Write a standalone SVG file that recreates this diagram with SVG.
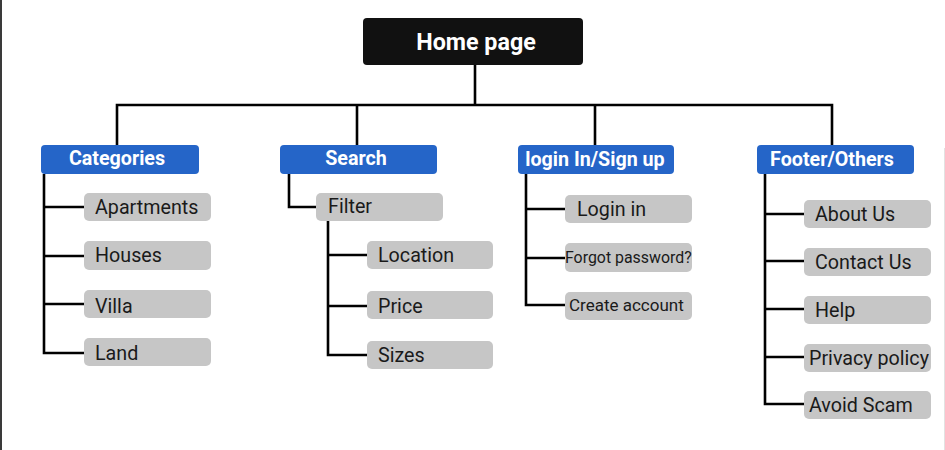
<svg xmlns="http://www.w3.org/2000/svg" width="945" height="450" viewBox="0 0 945 450">
  <style>
    .root rect { fill: #111111; }
    .root text { fill: #ffffff; font-family: Roboto, "Liberation Sans", sans-serif; font-weight: 700; font-size: 23.3px; text-anchor: middle; }
    .sec rect { fill: #2565c8; }
    .sec text { fill: #ffffff; font-family: Roboto, "Liberation Sans", sans-serif; font-weight: 700; font-size: 19.7px; text-anchor: middle; }
    .leaf rect { fill: #c6c6c6; }
    .leaf text { fill: #1a1a1a; font-family: Roboto, "Liberation Sans", sans-serif; font-size: 19.7px; }
    .links path { fill: none; stroke: #000000; stroke-width: 2.6; }
  </style>

  <rect width="945" height="450" fill="#ffffff"/>
  <!-- frame edges -->
  <rect x="0" y="0" width="2" height="450" fill="#3a3a3a"/>
  <line x1="944.5" y1="148" x2="944.5" y2="450" stroke="#e2e2e2" stroke-width="1"/>

  <g class="links">
    <!-- trunk -->
    <path d="M475 65 V105 M117 145 V105 H832 V145 M357 105 V145 M595 105 V145"/>
    <!-- Categories -->
    <path d="M44 174 V353 H84 M44 207 H84 M44 256 H84 M44 304 H84"/>
    <!-- Search / Filter -->
    <path d="M289 174 V207 H316"/>
    <path d="M328 221 V355 H367 M328 255 H367 M328 306 H367"/>
    <!-- Login -->
    <path d="M526 174 V305 H565 M526 209 H565 M526 258 H565"/>
    <!-- Footer -->
    <path d="M765 174 V404 H804 M765 214 H804 M765 261 H804 M765 309 H804 M765 357 H804"/>
  </g>

  <g id="home" class="root">
    <rect x="363" y="18" width="220" height="47" rx="4"/>
    <text x="476" y="50">Home page</text>
  </g>

  <g id="categories" class="sec">
    <rect x="41" y="145" width="158" height="29" rx="4"/>
    <text x="117" y="165">Categories</text>
  </g>
  <g id="search" class="sec">
    <rect x="280" y="145" width="157" height="29" rx="4"/>
    <text x="356" y="165">Search</text>
  </g>
  <g id="login" class="sec">
    <rect x="518" y="145" width="156" height="29" rx="4"/>
    <text x="595" y="166">login In/Sign up</text>
  </g>
  <g id="footer" class="sec">
    <rect x="757" y="145" width="157" height="29" rx="4"/>
    <text x="832" y="166">Footer/Others</text>
  </g>

  <!-- Categories items -->
  <g id="apartments" class="leaf">
    <rect x="84" y="193" width="127" height="28" rx="5"/>
    <text x="95" y="214">Apartments</text>
  </g>
  <g id="houses" class="leaf">
    <rect x="84" y="241" width="127" height="29" rx="5"/>
    <text x="95" y="262">Houses</text>
  </g>
  <g id="villa" class="leaf">
    <rect x="84" y="290" width="127" height="28" rx="5"/>
    <text x="95" y="313">Villa</text>
  </g>
  <g id="land" class="leaf">
    <rect x="84" y="338" width="127" height="28" rx="5"/>
    <text x="95" y="360">Land</text>
  </g>

  <!-- Search items -->
  <g id="filter" class="leaf">
    <rect x="316" y="193" width="127" height="28" rx="5"/>
    <text x="328" y="213">Filter</text>
  </g>
  <g id="location" class="leaf">
    <rect x="367" y="241" width="126" height="28" rx="5"/>
    <text x="378" y="262">Location</text>
  </g>
  <g id="price" class="leaf">
    <rect x="367" y="291" width="126" height="28" rx="5"/>
    <text x="378" y="313">Price</text>
  </g>
  <g id="sizes" class="leaf">
    <rect x="367" y="341" width="126" height="28" rx="5"/>
    <text x="378" y="362">Sizes</text>
  </g>

  <!-- Login items -->
  <g id="login-in" class="leaf">
    <rect x="565" y="195" width="127" height="28" rx="5"/>
    <text x="577" y="216">Login in</text>
  </g>
  <g id="forgot" class="leaf">
    <rect x="565" y="243" width="127" height="29" rx="5"/>
    <text x="565" y="263" style="font-size:15.9px">Forgot password?</text>
  </g>
  <g id="create" class="leaf">
    <rect x="565" y="292" width="127" height="28" rx="5"/>
    <text x="569" y="311" style="font-size:17px">Create account</text>
  </g>

  <!-- Footer items -->
  <g id="about" class="leaf">
    <rect x="804" y="200" width="127" height="28" rx="5"/>
    <text x="815" y="221">About Us</text>
  </g>
  <g id="contact" class="leaf">
    <rect x="804" y="248" width="127" height="28" rx="5"/>
    <text x="815" y="269">Contact Us</text>
  </g>
  <g id="help" class="leaf">
    <rect x="804" y="296" width="127" height="28" rx="5"/>
    <text x="815" y="317">Help</text>
  </g>
  <g id="privacy" class="leaf">
    <rect x="804" y="344" width="127" height="28" rx="5"/>
    <text x="809" y="365">Privacy policy</text>
  </g>
  <g id="avoid" class="leaf">
    <rect x="804" y="391" width="127" height="28" rx="5"/>
    <text x="809" y="412">Avoid Scam</text>
  </g>
</svg>
